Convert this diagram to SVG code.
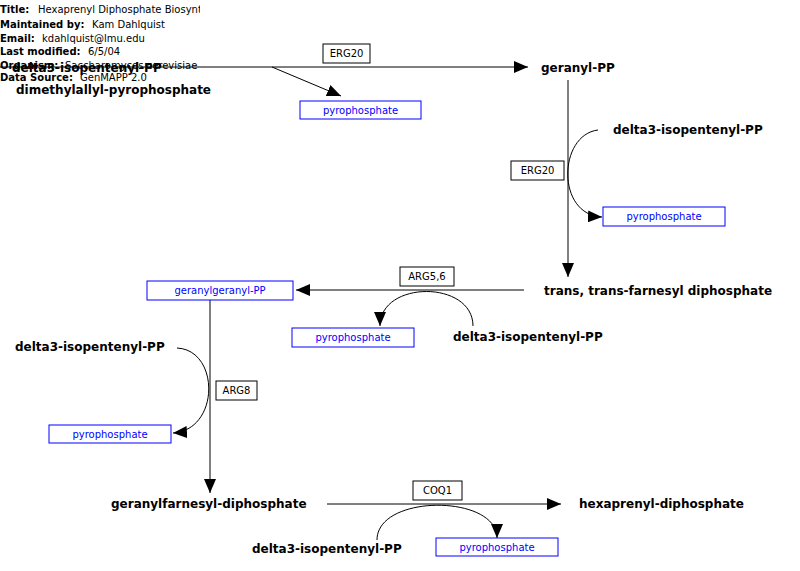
<svg xmlns="http://www.w3.org/2000/svg" width="800" height="571" viewBox="0 0 800 571">
<style>
.hb{font-family:"DejaVu Sans",sans-serif;font-size:10px;font-weight:bold;fill:#000}
.hn{font-family:"DejaVu Sans",sans-serif;font-size:10px;fill:#000}
.lbl{font-family:"DejaVu Sans",sans-serif;font-size:12px;font-weight:bold;fill:#000}
.gp{fill:#fff;stroke:#0000ff;stroke-width:1}
.gpt{font-family:"DejaVu Sans",sans-serif;font-size:10px;fill:#0000ff;text-anchor:middle}
.enz{fill:#fff;stroke:#000;stroke-width:1}
.enzt{font-family:"DejaVu Sans",sans-serif;font-size:10px;fill:#000;text-anchor:middle}
.ln{fill:none;stroke:#000;stroke-width:1}
</style>
<defs>
<marker id="ah" markerWidth="14" markerHeight="12" refX="14" refY="6" orient="auto" markerUnits="userSpaceOnUse">
<path d="M0,0 L14,6 L0,12 Z" fill="#000"/>
</marker>
<clipPath id="tc"><rect x="0" y="0" width="200" height="20"/></clipPath>
</defs>
<g id="header">
<text class="hb" x="0" y="13">Title:</text>
<text class="hn" x="38" y="13" clip-path="url(#tc)">Hexaprenyl Diphosphate Biosynthesis</text>
<text class="hb" x="0" y="28">Maintained by:</text>
<text class="hn" x="92" y="28">Kam Dahlquist</text>
<text class="hb" x="0" y="42">Email:</text>
<text class="hn" x="42" y="42">kdahlquist@lmu.edu</text>
<text class="hb" x="0" y="55">Last modified:</text>
<text class="hn" x="88" y="55">6/5/04</text>
<text class="hb" x="0" y="69">Organism:</text>
<text class="hn" x="65" y="69">Saccharomyces cerevisiae</text>
<text class="hb" x="0" y="81">Data Source:</text>
<text class="hn" x="80" y="81">GenMAPP 2.0</text>
</g>
<g id="connectors">
<line class="ln" x1="0" y1="67" x2="528" y2="67" marker-end="url(#ah)"/>
<line class="ln" x1="272" y1="67" x2="341" y2="96" marker-end="url(#ah)"/>
<line class="ln" x1="568" y1="80" x2="568" y2="277" marker-end="url(#ah)"/>
<path class="ln" d="M598,130 C558,135 556,215 602,217" marker-end="url(#ah)"/>
<line class="ln" x1="524" y1="290" x2="296" y2="290" marker-end="url(#ah)"/>
<path class="ln" d="M473,326 C473,280 380,280 380,326" marker-end="url(#ah)"/>
<line class="ln" x1="210" y1="300" x2="210" y2="493" marker-end="url(#ah)"/>
<path class="ln" d="M177,348 C220,350 220,430 173,433" marker-end="url(#ah)"/>
<line class="ln" x1="327" y1="504" x2="561" y2="504" marker-end="url(#ah)"/>
<path class="ln" d="M377,540 C377,494 497,494 497,538" marker-end="url(#ah)"/>
</g>
<g id="n-ipp1"><text class="lbl" x="12" y="72">delta3-isopentenyl-PP</text></g>
<g id="n-dmapp"><text class="lbl" x="16" y="94">dimethylallyl-pyrophosphate</text></g>
<g id="n-pp1"><rect class="gp" x="300" y="101" width="121" height="18"/><text class="gpt" x="360.5" y="114">pyrophosphate</text></g>
<g id="n-erg20a"><rect class="enz" x="323" y="44" width="47" height="19"/><text class="enzt" x="346.5" y="57">ERG20</text></g>
<g id="n-gpp"><text class="lbl" x="541" y="72">geranyl-PP</text></g>
<g id="n-ipp2"><text class="lbl" x="613" y="134">delta3-isopentenyl-PP</text></g>
<g id="n-pp2"><rect class="gp" x="603" y="207" width="122" height="19"/><text class="gpt" x="664" y="220">pyrophosphate</text></g>
<g id="n-erg20b"><rect class="enz" x="511" y="161" width="53" height="19"/><text class="enzt" x="537.5" y="174">ERG20</text></g>
<g id="n-fpp"><text class="lbl" x="544" y="295">trans, trans-farnesyl diphosphate</text></g>
<g id="n-ggpp"><rect class="gp" x="147" y="281" width="146" height="19"/><text class="gpt" x="220" y="294">geranylgeranyl-PP</text></g>
<g id="n-arg56"><rect class="enz" x="400" y="267" width="54" height="19"/><text class="enzt" x="427" y="280">ARG5,6</text></g>
<g id="n-pp3"><rect class="gp" x="292" y="328" width="122" height="19"/><text class="gpt" x="353" y="341">pyrophosphate</text></g>
<g id="n-ipp3"><text class="lbl" x="453" y="341">delta3-isopentenyl-PP</text></g>
<g id="n-ipp4"><text class="lbl" x="15" y="351">delta3-isopentenyl-PP</text></g>
<g id="n-pp4"><rect class="gp" x="49" y="425" width="122" height="18"/><text class="gpt" x="110" y="438">pyrophosphate</text></g>
<g id="n-arg8"><rect class="enz" x="216" y="381" width="41" height="19"/><text class="enzt" x="236.5" y="394">ARG8</text></g>
<g id="n-gfpp"><text class="lbl" x="111" y="508">geranylfarnesyl-diphosphate</text></g>
<g id="n-hexpp"><text class="lbl" x="579" y="508">hexaprenyl-diphosphate</text></g>
<g id="n-coq1"><rect class="enz" x="413" y="481" width="49" height="19"/><text class="enzt" x="437.5" y="494">COQ1</text></g>
<g id="n-pp5"><rect class="gp" x="436" y="538" width="122" height="18"/><text class="gpt" x="497" y="551">pyrophosphate</text></g>
<g id="n-ipp5"><text class="lbl" x="252" y="553">delta3-isopentenyl-PP</text></g>
</svg>
